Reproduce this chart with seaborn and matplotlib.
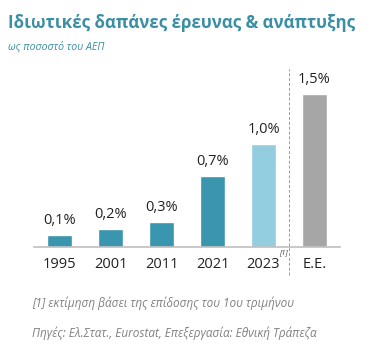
import matplotlib
matplotlib.use("Agg")
import matplotlib.pyplot as plt
import seaborn as sns
import pandas as pd

sns.set_style("white")
plt.rcParams['font.family'] = ['Open Sans', 'DejaVu Sans']

categories = ["1995", "2001", "2011", "2021", "2023", "Ε.Ε."]
values = [0.12, 0.18, 0.25, 0.70, 1.01, 1.50]
labels = ["0,1%", "0,2%", "0,3%", "0,7%", "1,0%", "1,5%"]
colors = ["#3a95ae", "#3a95ae", "#3a95ae", "#3a95ae", "#93cde0", "#a6a6a6"]

df = pd.DataFrame({"cat": categories, "val": values})

fig = plt.figure(figsize=(3.79, 3.56), dpi=100)
ax = fig.add_axes([0.09, 0.306, 0.807, 0.50])

sns.barplot(data=df, x="cat", y="val", hue="cat", palette=colors,
            width=0.5, legend=False, ax=ax, saturation=1)

for i, (v, lab) in enumerate(zip(values, labels)):
    ax.text(i, v + 0.07, lab, ha="center", va="bottom", fontsize=10.5, color="#222222")

ax.set_ylim(0, 1.75)
ax.set_xlim(-0.5, 5.5)
ax.set_yticks([])
ax.set_xlabel("")
ax.set_ylabel("")
ax.tick_params(axis="x", length=0, labelsize=10.5, colors="#222222", pad=7)
for s in ["top", "right", "left"]:
    ax.spines[s].set_visible(False)
ax.spines["bottom"].set_color("#bfbfbf")
ax.spines["bottom"].set_linewidth(1.2)

# dashed separator before EU
ax.plot([4.5, 4.5], [-0.27, 1.75], ls=(0, (3, 2)), color="#999999", lw=0.7, clip_on=False)
ax.text(4.47, -0.02, "[1]", ha="right", va="top", fontsize=5.5, style="italic", color="#444444")

fig.text(0.02, 0.935, "Ιδιωτικές δαπάνες έρευνας & ανάπτυξης", fontsize=12.2,
         fontweight="bold", color="#3a8fa5", va="center")
fig.text(0.022, 0.868, "ως ποσοστό του ΑΕΠ", fontsize=7.6, style="italic",
         color="#3a8fa5", va="center")
fig.text(0.084, 0.149, "[1] εκτίμηση βάσει της επίδοσης του 1ου τριμήνου", fontsize=8.5,
         style="italic", color="#808080", va="center")
fig.text(0.084, 0.065, "Πηγές: Ελ.Στατ., Eurostat, Επεξεργασία: Εθνική Τράπεζα", fontsize=8.5,
         style="italic", color="#808080", va="center")

fig.savefig("out.png", dpi=100)
